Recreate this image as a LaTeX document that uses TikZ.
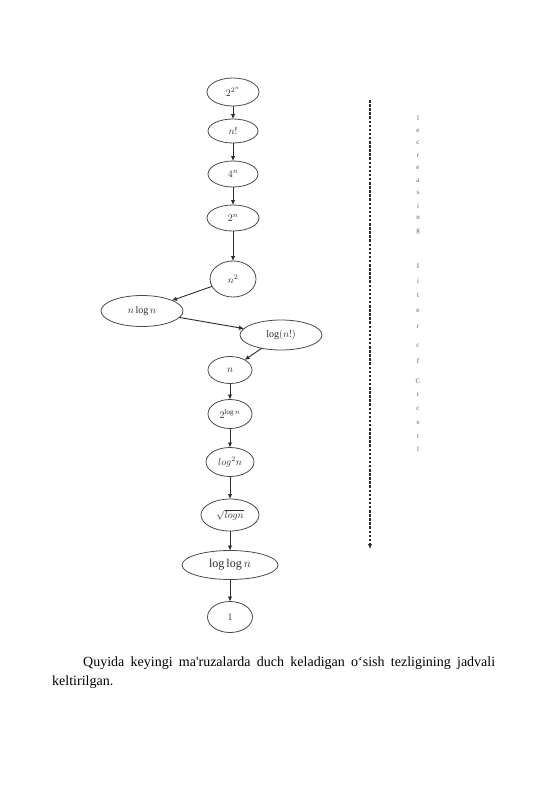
\documentclass[tikz,border=0pt]{standalone}
\usepackage{fontspec}
\setmainfont{Liberation Serif}[Ligatures=TeXOff]
\usepackage{tikz}
\usetikzlibrary{shapes.geometric,arrows.meta}
\definecolor{edgegray}{HTML}{4A4A4A}
\definecolor{inkgray}{HTML}{2B2B2B}
\definecolor{lettergray}{HTML}{5E5E5E}

\begin{document}
\begin{tikzpicture}[
        x = 1pt, y = -1pt,
        rate/.style  = {ellipse, draw=edgegray, line width=0.8pt, inner sep=0pt, outer sep=0pt,
                        minimum width=50pt, minimum height=26pt, text=inkgray, font=\fontsize{10}{12}\selectfont},
        link/.style  = {draw=inkgray, line width=0.9pt, -{Latex[length=5pt,width=4.5pt]}},
        trend/.style = {draw=inkgray, line width=1.1pt, dash pattern=on 2.5pt off 1.6pt, -{Latex[length=5pt,width=4.5pt]}},
        letter/.style = {text=lettergray, font=\fontsize{7}{8}\selectfont, inner sep=0pt}
    ]
    \useasboundingbox (0,0) rectangle (549,800);
    \fill[white] (0,0) rectangle (549,800);
%
    \node[rate, minimum width=52pt, minimum height=28pt] (r1)  at (233, 92)  {$2^{2^n}$};
    \node[rate, minimum height=24pt]                     (r2)  at (233, 131) {$n!$};
    \node[rate]                                          (r3)  at (233, 174) {$4^n$};
    \node[rate, minimum width=52pt]                      (r4)  at (233, 218) {$2^n$};
    \node[rate, minimum width=46pt, minimum height=36pt] (r5)  at (233, 279) {$n^2$};
%
    \node[rate, minimum width=82pt, minimum height=31pt] (r6)  at (142, 311) {$n\log n$};
    \node[rate, minimum width=82pt, minimum height=30pt] (r7)  at (281, 335) {$\log(n!)$};
%
    \node[rate, minimum width=44pt, minimum height=27pt] (r8)  at (230, 370) {$n$};
    \node[rate, minimum width=44pt, minimum height=29pt] (r9)  at (230, 414) {$2^{\log n}$};
    \node[rate, minimum width=48pt, minimum height=29pt] (r10) at (230, 462) {$log^2n$};
    \node[rate, minimum width=58pt, minimum height=32pt] (r11) at (230, 515) {$\sqrt{logn}$};
    \node[rate, minimum width=96pt, minimum height=29pt, font=\fontsize{12}{14}\selectfont]
                                                         (r12) at (230, 565) {$\log\log n$};
    \node[rate, minimum width=45pt, minimum height=31pt] (r13) at (230, 617) {$1$};
%
    \draw[link] (r1) -- (r2);
    \draw[link] (r2) -- (r3);
    \draw[link] (r3) -- (r4);
    \draw[link] (r4) -- (r5);
    \draw[link] (r5) -- (r6);
    \draw[link] (r6) -- (r7);
    \draw[link] (r7) -- (r8);
    \draw[link] (r8) -- (r9);
    \draw[link] (r9) -- (r10);
    \draw[link] (r10) -- (r11);
    \draw[link] (r11) -- (r12);
    \draw[link] (r12) -- (r13);
%
    \coordinate (trendtop) at (370, 100);
    \coordinate (trendbot) at (370, 549);
    \draw[trend] (trendtop) -- (trendbot);
%
    \foreach \ch/\yy in {l/118, e/131, c/143, r/156, e/168, a/181, s/193, i/206, n/218, g/231,
                         I/266, i/281, t/296, e/311, r/327, c/346, f/361,
                         C/381, r/395, c/409, s/423, t/437, l/449}
        \node[letter] at (418, \yy) {\ch};
%
    \node[anchor=north west, inner sep=0pt, text width=443pt, align=justify, text=black,
          font=\fontsize{14}{19}\selectfont] (caption) at (52, 657)
        {\hspace*{31pt}Quyida keyingi ma'ruzalarda duch keladigan o‘sish tezligining jadvali\linebreak keltirilgan.};
\end{tikzpicture}
\end{document}
